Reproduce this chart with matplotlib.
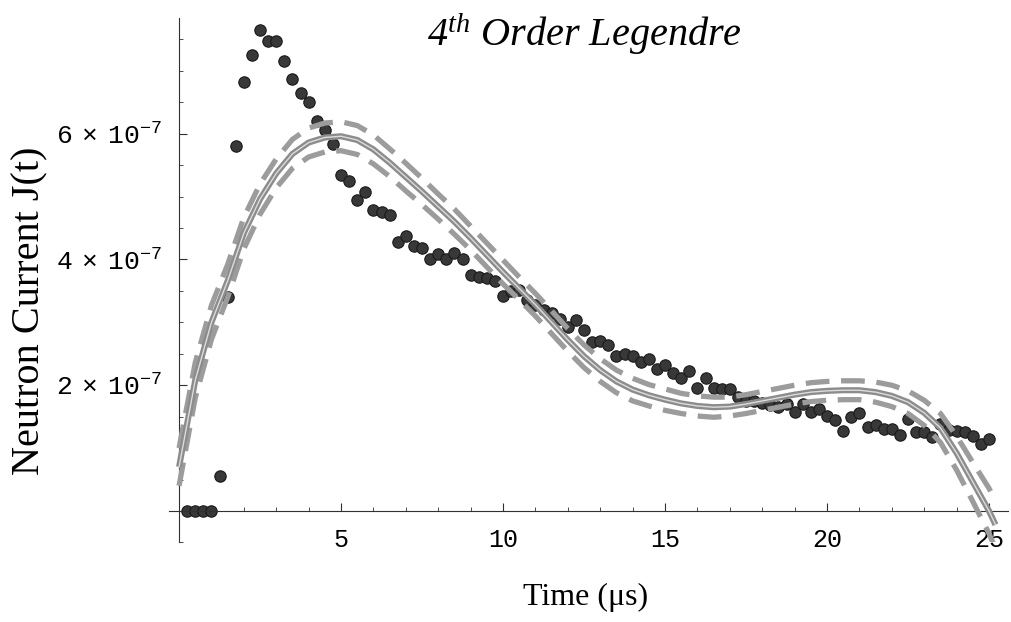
import numpy as np
import matplotlib.pyplot as plt
from matplotlib.ticker import FixedLocator, MultipleLocator

plt.rcParams['mathtext.fontset'] = 'custom'
plt.rcParams['mathtext.tt'] = 'Liberation Mono'
plt.rcParams['mathtext.rm'] = 'Liberation Serif'
plt.rcParams['mathtext.it'] = 'Liberation Serif:italic'

# measured neutron current, units of 1e-7, sampled every 0.25 us
t_data = np.linspace(0.25, 25.0, 100)
j_data = [0, 0, 0, 0, 0.56, 3.40, 5.80, 6.83, 7.25, 7.65,
          7.47, 7.47, 7.16, 6.87, 6.65, 6.50, 6.21, 6.06, 5.84, 5.35,
          5.25, 4.95, 5.07, 4.79, 4.76, 4.70, 4.28, 4.37, 4.22, 4.19,
          4.00, 4.08, 4.00, 4.11, 4.00, 3.76, 3.72, 3.71, 3.66, 3.42,
          3.50, 3.51, 3.35, 3.27, 3.19, 3.15, 3.05, 2.93, 3.04, 2.88,
          2.68, 2.70, 2.64, 2.47, 2.50, 2.47, 2.37, 2.42, 2.25, 2.32,
          2.19, 2.12, 2.22, 1.96, 2.11, 1.96, 1.94, 1.94, 1.82, 1.75,
          1.75, 1.72, 1.68, 1.65, 1.70, 1.57, 1.70, 1.58, 1.62, 1.51,
          1.45, 1.27, 1.49, 1.55, 1.34, 1.37, 1.30, 1.31, 1.21, 1.46,
          1.25, 1.25, 1.17, 1.38, 1.29, 1.27, 1.25, 1.19, 1.07, 1.15]

# 4th order Legendre fit and its confidence band
t_fit = [0, 0.5, 1, 1.5, 2, 2.5, 3, 3.5, 4, 4.5, 5, 5.5, 6, 6.5, 7, 7.5, 8, 8.5,
         9, 9.5, 10, 10.5, 11, 11.5, 12, 12.5, 13, 13.5, 14, 14.5, 15, 15.5, 16,
         16.5, 17, 17.5, 18, 18.5, 19, 19.5, 20, 20.5, 21, 21.5, 22, 22.5, 23,
         23.5, 24, 24.5, 25, 25.2]
j_fit = [0.70, 2.08, 3.00, 3.66, 4.42, 4.96, 5.37, 5.68, 5.86, 5.94, 5.96, 5.90,
         5.75, 5.54, 5.31, 5.08, 4.84, 4.60, 4.34, 4.07, 3.80, 3.54, 3.28, 3.00,
         2.72, 2.46, 2.24, 2.06, 1.93, 1.84, 1.77, 1.71, 1.67, 1.65, 1.66, 1.70,
         1.75, 1.80, 1.85, 1.89, 1.91, 1.92, 1.92, 1.89, 1.83, 1.73, 1.56, 1.32,
         0.92, 0.46, 0.00, -0.22]
j_upper = [1.00, 2.36, 3.27, 3.92, 4.67, 5.20, 5.60, 5.91, 6.09, 6.17, 6.19, 6.13,
           5.98, 5.76, 5.53, 5.29, 5.04, 4.80, 4.53, 4.26, 3.99, 3.72, 3.46, 3.18,
           2.90, 2.64, 2.42, 2.24, 2.11, 2.01, 1.94, 1.87, 1.83, 1.81, 1.81, 1.85,
           1.90, 1.95, 2.00, 2.04, 2.06, 2.07, 2.07, 2.05, 2.00, 1.91, 1.76, 1.55,
           1.19, 0.77, 0.36, 0.16]
j_lower = [0.40, 1.80, 2.73, 3.40, 4.17, 4.72, 5.14, 5.45, 5.63, 5.71, 5.73, 5.67,
           5.52, 5.32, 5.09, 4.87, 4.64, 4.40, 4.15, 3.88, 3.61, 3.36, 3.10, 2.82,
           2.54, 2.28, 2.06, 1.88, 1.75, 1.67, 1.60, 1.55, 1.51, 1.49, 1.51, 1.55,
           1.60, 1.65, 1.70, 1.74, 1.76, 1.77, 1.77, 1.73, 1.66, 1.55, 1.36, 1.09,
           0.65, 0.15, -0.36, -0.60]

fig = plt.figure(figsize=(10.11, 6.22), dpi=100)
ax = fig.add_axes([0.1675, 0.128, 0.830, 0.843])

ax.plot(t_data, j_data, 'o', ms=8.2, color='#383838', mec='#1a1a1a', mew=0.8, zorder=2)

for band in (j_upper, j_lower):
    ax.plot(t_fit, band, color='#9c9c9c', lw=3.8, dashes=(4.5, 2.2), zorder=3)
ax.plot(t_fit, j_fit, color='#8c8c8c', lw=4.4, solid_capstyle='butt', zorder=4)
ax.plot(t_fit, j_fit, color='#dcdcdc', lw=1.0, zorder=5)

ax.set_xlim(-0.3, 25.6)
ax.set_ylim(-0.5, 7.84)

for side in ('top', 'right'):
    ax.spines[side].set_visible(False)
ax.spines['left'].set_position(('data', 0))
ax.spines['bottom'].set_position(('data', 0))
for side in ('left', 'bottom'):
    ax.spines[side].set_linewidth(0.8)
    ax.spines[side].set_color('#303030')

ax.xaxis.set_major_locator(FixedLocator([5, 10, 15, 20, 25]))
ax.xaxis.set_minor_locator(MultipleLocator(1))
ax.yaxis.set_major_locator(FixedLocator([2, 4, 6]))
ax.yaxis.set_minor_locator(MultipleLocator(0.5))
ax.set_xticklabels(['5', '10', '15', '20', '25'], family='Liberation Mono', fontsize=18)
ax.set_yticklabels([r'$\mathtt{%d\ \times\ 10^{-7}}$' % v for v in (2, 4, 6)], fontsize=19)
ax.tick_params(which='both', direction='in', color='#303030')
ax.tick_params(which='major', length=6, width=0.8)
ax.tick_params(which='minor', length=3, width=0.6)
ax.tick_params(axis='x', pad=12)
ax.tick_params(axis='y', pad=12)

fig.text(0.578, 0.945, r'4$^{\mathit{th}}$ Order Legendre', fontsize=29,
         family='Liberation Serif', style='italic', ha='center', va='center')
fig.text(0.579, 0.039, 'Time (\u03bcs)', fontsize=23, family='Liberation Serif',
         ha='center', va='center')
fig.text(0.030, 0.50, 'Neutron Current J(t)', fontsize=29, family='Liberation Serif',
         rotation=90, ha='center', va='center')

plt.savefig('out.png')
plt.close()
